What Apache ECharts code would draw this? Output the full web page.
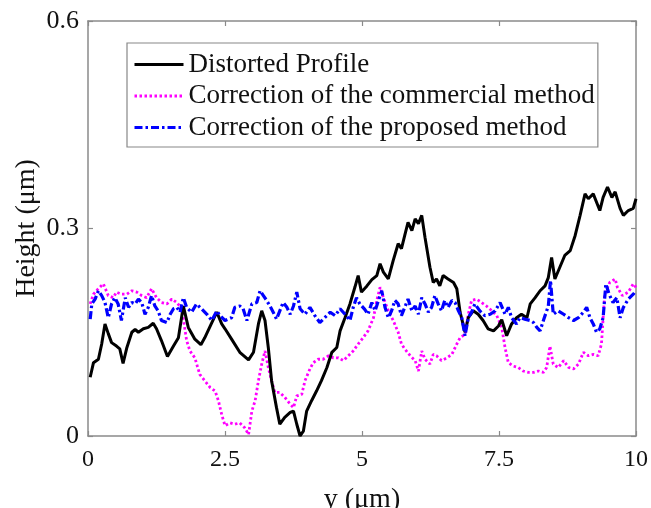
<!DOCTYPE html>
<html>
<head>
<meta charset="utf-8">
<script src="https://cdn.jsdelivr.net/npm/echarts@6/dist/echarts.min.js"></script>
<style>html,body{margin:0;padding:0;background:#fff}#c{width:651px;height:508px}</style>
</head>
<body>
<div id="c"></div>
<script>
// Distorted profile (black solid)
const distortedX = [0.04,0.10,0.19,0.25,0.31,0.37,0.43,0.52,0.58,0.64,0.71,0.80,0.86,0.92,1.01,1.10,1.19,1.25,1.34,1.45,1.56,1.65,1.74,1.83,1.95,2.06,2.13,2.23,2.35,2.44,2.50,2.62,2.77,2.93,3.02,3.11,3.17,3.23,3.29,3.35,3.44,3.50,3.59,3.69,3.75,3.81,3.87,3.93,3.99,4.08,4.17,4.26,4.36,4.45,4.54,4.60,4.69,4.78,4.87,4.93,4.99,5.09,5.18,5.27,5.33,5.39,5.48,5.57,5.66,5.72,5.78,5.84,5.91,5.97,6.03,6.09,6.15,6.24,6.30,6.36,6.42,6.48,6.57,6.67,6.73,6.79,6.88,6.94,7.03,7.12,7.21,7.30,7.40,7.49,7.55,7.64,7.73,7.82,7.91,8.01,8.07,8.16,8.25,8.34,8.40,8.46,8.52,8.61,8.70,8.80,8.89,8.98,9.07,9.13,9.22,9.34,9.40,9.48,9.56,9.62,9.71,9.77,9.86,9.95,10.0];
const distortedY = [0.085,0.106,0.111,0.133,0.162,0.148,0.135,0.130,0.126,0.105,0.128,0.150,0.154,0.150,0.155,0.157,0.163,0.155,0.138,0.115,0.130,0.142,0.188,0.157,0.140,0.132,0.142,0.159,0.179,0.162,0.155,0.140,0.121,0.110,0.121,0.162,0.181,0.167,0.128,0.080,0.041,0.017,0.027,0.034,0.036,0.017,0.000,0.007,0.036,0.051,0.065,0.080,0.099,0.121,0.128,0.152,0.171,0.191,0.215,0.232,0.208,0.217,0.226,0.232,0.249,0.237,0.227,0.254,0.278,0.271,0.290,0.309,0.297,0.314,0.307,0.319,0.287,0.244,0.222,0.227,0.217,0.232,0.227,0.222,0.213,0.179,0.150,0.171,0.181,0.176,0.167,0.155,0.152,0.159,0.168,0.145,0.162,0.171,0.176,0.171,0.191,0.200,0.210,0.217,0.229,0.258,0.227,0.244,0.261,0.268,0.290,0.319,0.350,0.343,0.350,0.326,0.345,0.360,0.345,0.353,0.329,0.319,0.326,0.329,0.343];

// Correction of the commercial method (magenta dotted)
const commercialX = [0.04,0.10,0.19,0.28,0.37,0.46,0.52,0.61,0.71,0.80,0.89,0.98,1.07,1.16,1.25,1.34,1.44,1.53,1.62,1.71,1.80,1.86,1.95,2.04,2.13,2.23,2.32,2.38,2.44,2.50,2.59,2.68,2.77,2.86,2.93,2.99,3.05,3.11,3.17,3.23,3.29,3.35,3.41,3.50,3.59,3.69,3.75,3.81,3.90,3.96,4.05,4.11,4.20,4.29,4.39,4.48,4.57,4.66,4.75,4.84,4.93,5.02,5.11,5.21,5.27,5.33,5.39,5.48,5.57,5.66,5.72,5.78,5.88,5.97,6.03,6.09,6.15,6.24,6.30,6.36,6.45,6.55,6.64,6.73,6.79,6.88,6.94,7.00,7.09,7.18,7.27,7.37,7.46,7.55,7.61,7.67,7.76,7.85,7.94,8.04,8.13,8.22,8.31,8.37,8.43,8.49,8.58,8.68,8.77,8.86,8.95,9.04,9.13,9.22,9.31,9.37,9.40,9.43,9.52,9.62,9.66,9.75,9.86,9.95,10.0];
const commercialY = [0.191,0.205,0.213,0.220,0.203,0.200,0.208,0.205,0.205,0.210,0.208,0.203,0.200,0.213,0.200,0.193,0.191,0.198,0.193,0.184,0.138,0.123,0.113,0.089,0.080,0.070,0.065,0.051,0.031,0.015,0.019,0.017,0.019,0.012,0.002,0.036,0.051,0.080,0.104,0.123,0.099,0.080,0.063,0.063,0.056,0.046,0.041,0.058,0.060,0.080,0.097,0.106,0.111,0.111,0.116,0.113,0.113,0.109,0.116,0.123,0.133,0.142,0.152,0.171,0.196,0.215,0.200,0.181,0.167,0.150,0.133,0.126,0.116,0.109,0.094,0.123,0.111,0.104,0.118,0.116,0.109,0.113,0.118,0.133,0.142,0.147,0.176,0.196,0.198,0.193,0.188,0.181,0.174,0.157,0.128,0.106,0.101,0.099,0.094,0.092,0.092,0.094,0.092,0.099,0.130,0.104,0.099,0.109,0.099,0.097,0.104,0.121,0.116,0.118,0.116,0.133,0.171,0.205,0.222,0.227,0.215,0.203,0.208,0.220,0.215];

// Correction of the proposed method (blue dash-dot)
const proposedX = [0.04,0.07,0.13,0.19,0.25,0.31,0.37,0.43,0.49,0.55,0.61,0.68,0.74,0.80,0.86,0.92,0.98,1.04,1.10,1.16,1.22,1.28,1.34,1.44,1.50,1.56,1.62,1.68,1.74,1.80,1.89,1.98,2.07,2.17,2.26,2.35,2.41,2.50,2.62,2.68,2.77,2.83,2.90,2.99,3.08,3.14,3.20,3.26,3.32,3.38,3.44,3.50,3.56,3.63,3.69,3.75,3.81,3.87,3.96,4.05,4.14,4.23,4.32,4.42,4.51,4.60,4.69,4.78,4.84,4.90,4.96,5.05,5.11,5.18,5.24,5.30,5.36,5.42,5.48,5.54,5.60,5.66,5.72,5.78,5.84,5.91,5.97,6.03,6.09,6.15,6.21,6.27,6.33,6.39,6.45,6.51,6.57,6.64,6.70,6.76,6.82,6.88,6.94,7.00,7.06,7.15,7.24,7.34,7.43,7.52,7.61,7.67,7.73,7.82,7.88,7.97,8.07,8.13,8.19,8.25,8.31,8.40,8.44,8.49,8.58,8.68,8.77,8.86,8.95,9.04,9.10,9.16,9.22,9.28,9.34,9.40,9.45,9.51,9.58,9.65,9.71,9.77,9.86,9.95,10.0];
const proposedY = [0.169,0.191,0.198,0.210,0.203,0.193,0.171,0.191,0.200,0.191,0.167,0.200,0.186,0.193,0.191,0.198,0.193,0.176,0.186,0.203,0.188,0.181,0.167,0.164,0.176,0.184,0.186,0.179,0.200,0.186,0.179,0.191,0.184,0.176,0.167,0.181,0.174,0.167,0.171,0.186,0.188,0.184,0.167,0.191,0.193,0.210,0.203,0.196,0.188,0.179,0.169,0.181,0.193,0.186,0.176,0.188,0.208,0.184,0.176,0.186,0.174,0.164,0.171,0.179,0.174,0.184,0.176,0.167,0.186,0.200,0.191,0.183,0.176,0.193,0.181,0.196,0.210,0.186,0.171,0.181,0.196,0.191,0.174,0.186,0.198,0.181,0.188,0.176,0.200,0.191,0.179,0.186,0.203,0.191,0.181,0.196,0.186,0.196,0.193,0.181,0.171,0.145,0.171,0.179,0.191,0.181,0.174,0.176,0.181,0.193,0.176,0.186,0.171,0.162,0.171,0.169,0.167,0.164,0.157,0.152,0.167,0.188,0.225,0.176,0.181,0.176,0.171,0.167,0.171,0.179,0.186,0.171,0.162,0.150,0.155,0.171,0.220,0.205,0.193,0.200,0.171,0.186,0.198,0.205,0.210];

const xTicks = [0, 2.5, 5, 7.5, 10];
const yTicks = [0, 0.3, 0.6];
const seriesNames = ['Distorted Profile', 'Correction of the commercial method', 'Correction of the proposed method'];

const zip = (xs, ys) => xs.map((x, i) => [x, ys[i]]);
const FONT = '"Liberation Serif", "Times New Roman", serif';
const AX = '#8a8a8a';

const axisCommon = {
  axisLine: { show: true, onZero: false, lineStyle: { color: AX, width: 1.5 } },
  axisTick: { show: true, inside: true, length: 5, lineStyle: { color: AX, width: 1.2 } },
  splitLine: { show: false }
};
const fmt = ticks => v => { const t = ticks.find(k => Math.abs(k - v) < 1e-9); return t === undefined ? '' : String(t); };

const chart = echarts.init(document.getElementById('c'), null, { renderer: 'canvas' });
chart.setOption({
  animation: false,
  backgroundColor: '#fff',
  grid: { left: 88, right: 15, top: 21, bottom: 72, containLabel: false, outerBoundsMode: 'none' },
  legend: {
    orient: 'vertical',
    left: 127, top: 43,
    padding: [8, 3, 6, 6],
    borderColor: '#888', borderWidth: 1.2, backgroundColor: '#fff',
    itemWidth: 49, itemHeight: 14, itemGap: 4.5,
    itemStyle: { opacity: 0 },
    lineStyle: { width: 3 },
    textStyle: { fontFamily: FONT, fontSize: 27, color: '#111', lineHeight: 27 },
    data: seriesNames
  },
  xAxis: [
    Object.assign({
      type: 'value', min: 0, max: 10, interval: 2.5, position: 'bottom',
      name: 'y (\u03bcm)', nameLocation: 'middle', nameGap: 50, nameMoveOverlap: false,
      nameTextStyle: { fontFamily: FONT, fontSize: 28, color: '#111' },
      axisLabel: { fontFamily: FONT, fontSize: 24, color: '#111', margin: 12, formatter: fmt(xTicks) }
    }, axisCommon),
    Object.assign({
      type: 'value', min: 0, max: 10, interval: 2.5, position: 'top',
      axisLabel: { show: false }
    }, axisCommon)
  ],
  yAxis: [
    Object.assign({
      type: 'value', min: 0, max: 0.6, interval: 0.3, position: 'left',
      name: 'Height (\u03bcm)', nameLocation: 'middle', nameGap: 47, nameMoveOverlap: false,
      nameTextStyle: { fontFamily: FONT, fontSize: 28, color: '#111' },
      axisLabel: { fontFamily: FONT, fontSize: 26, color: '#111', margin: 9, formatter: fmt(yTicks) }
    }, axisCommon),
    Object.assign({
      type: 'value', min: 0, max: 0.6, interval: 0.3, position: 'right',
      axisLabel: { show: false }
    }, axisCommon)
  ],
  series: [
    {
      name: seriesNames[0], type: 'line', symbol: 'none', z: 3,
      data: zip(distortedX, distortedY),
      lineStyle: { color: '#000', width: 3, type: 'solid' },
      itemStyle: { color: '#000' }
    },
    {
      name: seriesNames[1], type: 'line', symbol: 'none', z: 2,
      data: zip(commercialX, commercialY),
      lineStyle: { color: '#ff00ff', width: 2.8, type: [2.5, 2.5] },
      itemStyle: { color: '#ff00ff' }
    },
    {
      name: seriesNames[2], type: 'line', symbol: 'none', z: 4,
      data: zip(proposedX, proposedY),
      lineStyle: { color: '#0000ff', width: 3.2, type: [8, 3, 2.5, 3] },
      itemStyle: { color: '#0000ff' }
    }
  ]
});
</script>
</body>
</html>
